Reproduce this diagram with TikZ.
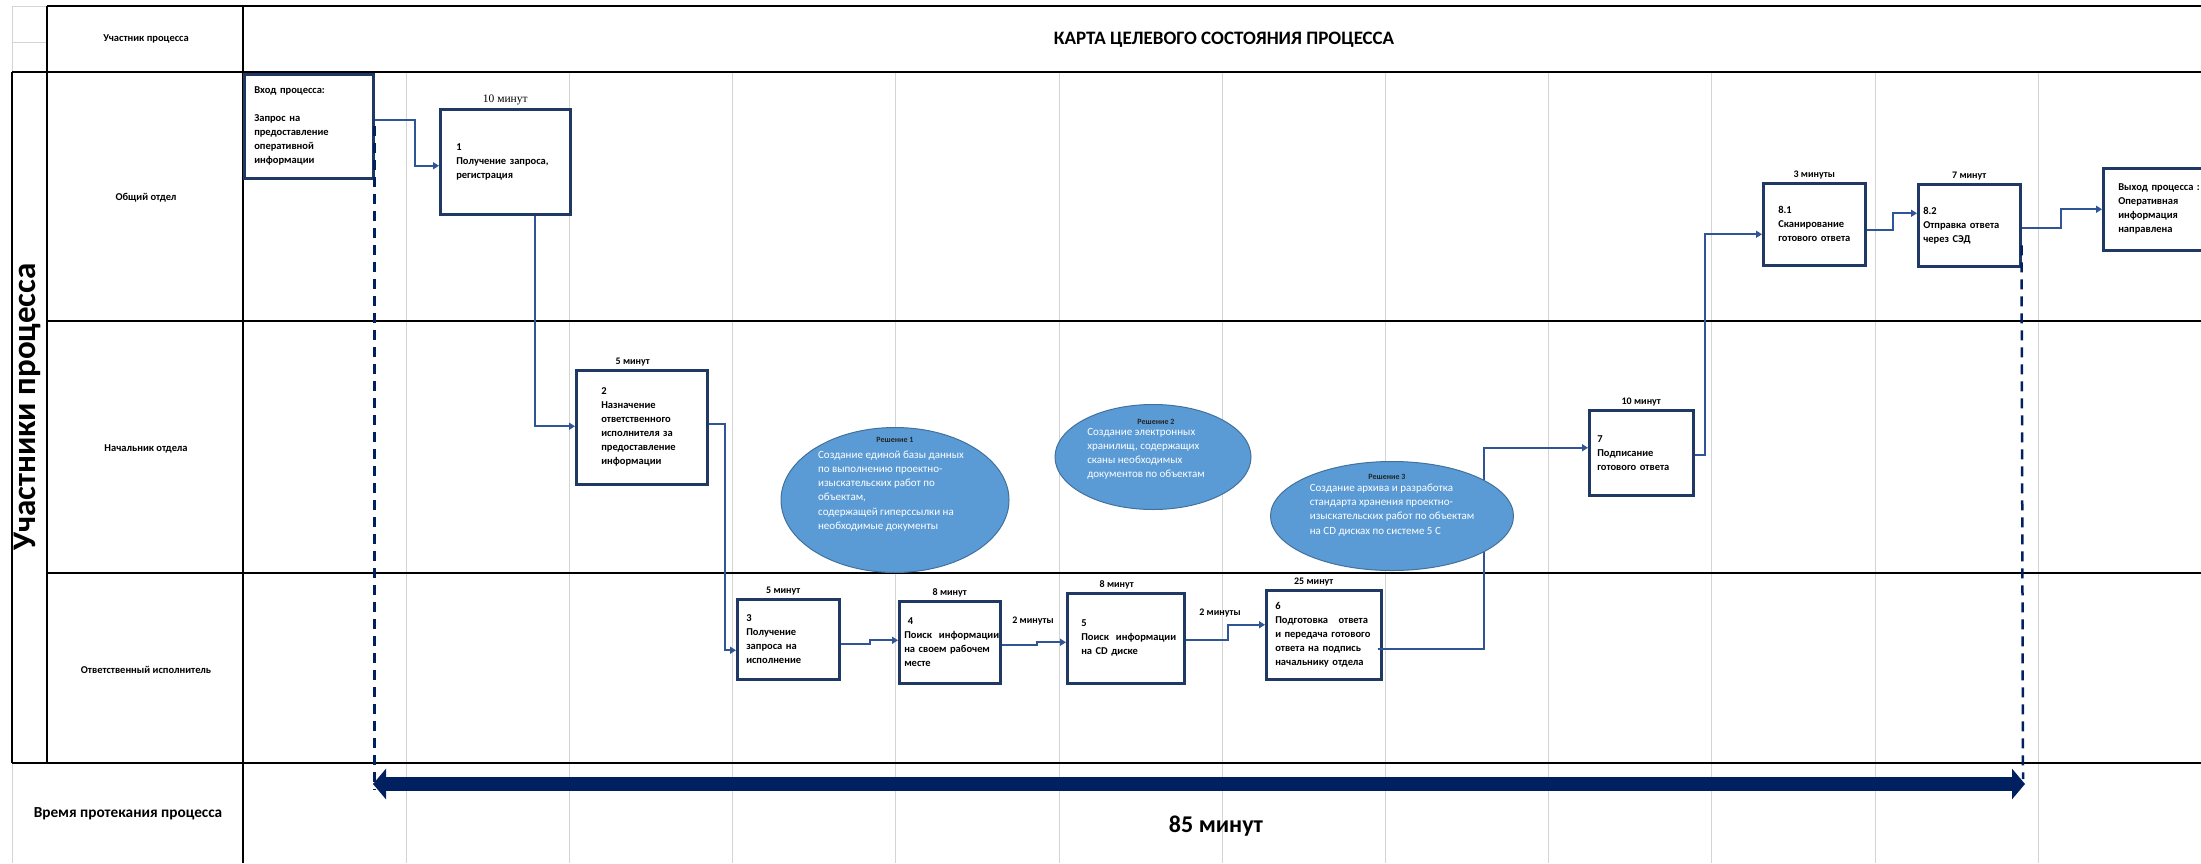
\documentclass[tikz,border=0pt]{standalone}
\usepackage{fontspec}
\setmainfont{Carlito}
\newfontfamily\timesfnt{Liberation Serif}
\usetikzlibrary{arrows.meta,positioning,shapes.geometric}

\definecolor{boxc}{RGB}{31,56,100}
\definecolor{flowc}{RGB}{47,85,151}
\definecolor{navyc}{RGB}{0,32,96}
\definecolor{solfill}{RGB}{91,155,213}
\definecolor{soledge}{RGB}{65,113,156}
\definecolor{gridc}{RGB}{212,212,212}

\newcommand{\boxfnt}{\fontsize{10.5}{14}\selectfont\bfseries}
\newcommand{\durfnt}{\fontsize{10}{12}\selectfont\bfseries}
\newcommand{\serdurfnt}{\timesfnt\fontsize{11.5}{13}\selectfont}
\newcommand{\soltextfnt}{\fontsize{11}{14.2}\selectfont}
\newcommand{\soltitlefnt}{\fontsize{8}{10}\selectfont\bfseries}
\newcommand{\lanefnt}{\fontsize{10.5}{12}\selectfont\bfseries}
\newcommand{\headfnt}{\fontsize{19}{22}\selectfont\bfseries}
\newcommand{\sidefnt}{\fontsize{33}{36}\selectfont\bfseries}
\newcommand{\footfnt}{\fontsize{15.3}{17}\selectfont\bfseries}
\newcommand{\totalfnt}{\fontsize{24}{28}\selectfont\bfseries}

\begin{document}
\begin{tikzpicture}[x=1pt,y=-1pt,
    procbox/.style={draw=boxc, fill=white, line width=2.5pt, align=left,
      anchor=north west, inner ysep=0pt, font=\boxfnt},
    timelbl/.style={font=\durfnt, inner sep=1pt},
    flowline/.style={draw=flowc, line width=2pt, -{Triangle[length=6pt,width=7pt]}},
    guideline/.style={draw=navyc, line width=2.5pt, dash pattern=on 10pt off 7pt},
    spanarrow/.style={draw=navyc, line width=14pt,
      {Triangle[length=13pt,width=30pt]}-{Triangle[length=13pt,width=30pt]}},
    solution/.style={ellipse, draw=soledge, fill=solfill, line width=1pt, inner sep=0pt},
    soltext/.style={font=\soltextfnt, text=white, align=left, inner sep=0pt},
    soltitle/.style={font=\soltitlefnt, text=black!85, inner sep=0pt},
    gridline/.style={draw=gridc, line width=1pt},
    tableline/.style={draw=black, line width=1.5pt}]
  \useasboundingbox (0,0) rectangle (2201,863);

  % grid
  \foreach \k in {1,...,11} {
    \draw[gridline] (243+163.2*\k,72) -- ++(0,791);
  }

  % table
  \draw[gridline] (12,6) -- (47,6);
  \draw[gridline] (12,6) -- (12,72);
  \draw[gridline] (12,42) -- (47,42);
  \draw[gridline] (12,763) -- (12,863);
  \draw[tableline] (47,6) -- (2201,6);
  \draw[tableline] (47,6) -- (47,763);
  \draw[tableline] (243,6) -- (243,863);
  \draw[tableline] (12,72) -- (2201,72);
  \draw[tableline] (12,72) -- (12,763);
  \draw[tableline] (47,321) -- (2201,321);
  \draw[tableline] (47,573) -- (2201,573);
  \draw[tableline, line width=2.5pt] (12,763) -- (2201,763);

  \node[font=\lanefnt] (hdr) at (146,39) {Участник процесса};
  \node[font=\headfnt] (title) at (1224,40) {КАРТА ЦЕЛЕВОГО СОСТОЯНИЯ ПРОЦЕССА};
  \node[font=\sidefnt, rotate=90] (side) at (27,407) {Участники процесса};
  \node[font=\lanefnt] (lane1) at (146,198) {Общий отдел};
  \node[font=\lanefnt] (lane2) at (146,449) {Начальник отдела};
  \node[font=\lanefnt] (lane3) at (146,670) {Ответственный исполнитель};
  \node[font=\footfnt] (foot) at (128,814) {Время протекания процесса};

  % boxes
  \node[procbox, text width=109pt, inner xsep=10pt, minimum height=104pt] (in) at (243,73)
    {Вход процесса:\\[14pt]Запрос на\\предоставление\\оперативной\\информации};
  \node[procbox, text width=98pt, inner xsep=16pt, minimum height=105pt] (b1) at (439,108)
    {1\\Получение запроса,\\регистрация};
  \node[procbox, text width=81pt, inner xsep=25pt, minimum height=114pt] (b2) at (575,369)
    {2\\Назначение\\ответственного\\исполнителя~за\\предоставление\\информации};
  \node[procbox, text width=84pt, inner xsep=9pt, minimum height=80pt] (b3) at (736,598)
    {3\\Получение\\запроса~на\\исполнение};
  \node[procbox, text width=91pt, inner xsep=5pt, minimum height=82pt] (b4) at (898,600)
    {~4\\Поиск~~информации\\на~своем~рабочем\\месте};
  \node[procbox, text width=89pt, inner xsep=14pt, minimum height=90pt] (b5) at (1066,592)
    {5\\Поиск~~информации\\на~CD~диске};
  \node[procbox, text width=97pt, inner xsep=9pt, minimum height=89pt] (b6) at (1265,589)
    {6\\Подготовка~~~ответа\\и~передача~готового\\ответа~на~подпись\\начальнику~отдела};
  \node[procbox, text width=88pt, inner xsep=8pt, minimum height=85pt] (b7) at (1588,409)
    {7\\Подписание\\готового~ответа};
  \node[procbox, text width=72pt, inner xsep=15pt, minimum height=82pt] (b81) at (1762,182)
    {8.1\\Сканирование\\готового~ответа};
  \node[procbox, text width=92pt, inner xsep=5pt, minimum height=82pt] (b82) at (1917,183)
    {8.2\\Отправка~ответа\\через~СЭД};
  \node[procbox, text width=90pt, inner xsep=15pt, minimum height=82pt] (out) at (2102,167)
    {Выход~процесса~:\\Оперативная\\информация\\направлена};

  % durations
  \node[timelbl, font=\serdurfnt, above=2pt of b1] (t1) {10 минут};
  \node[timelbl, above=2pt of b2, xshift=-9pt] (t2) {5 минут};
  \node[timelbl, above=2pt of b3, xshift=-5pt] (t3) {5 минут};
  \node[timelbl, above=2pt of b4] (t4) {8 минут};
  \node[timelbl, above=2pt of b5, xshift=-9pt] (t5) {8 минут};
  \node[timelbl, above=2pt of b6, xshift=-10pt] (t6) {25 минут};
  \node[timelbl, above=2pt of b7] (t7) {10 минут};
  \node[timelbl, above=2pt of b81] (t81) {3 минуты};
  \node[timelbl, above=2pt of b82] (t82) {7 минут};
  \node[timelbl] (g45) at (1033,621) {2 минуты};
  \node[timelbl] (g56) at (1220,613) {2 минуты};

  % connectors
  \draw[flowline] ([yshift=6pt]in.east) -- ++(40,0) |- ([yshift=-4pt]b1.west);
  \draw[flowline] ([xshift=30pt]b1.south) |- ([yshift=1pt]b2.west);
  \draw[flowline] ([yshift=3pt]b2.east) -- ++(16,0) |- ([yshift=-11pt]b3.west);
  \draw[flowline] ([yshift=-5pt]b3.east) -- ++(29,0) |- ([yshift=2pt]b4.west);
  \draw[flowline] ([yshift=-3pt]b4.east) -- ++(35,0) |- ([yshift=-4pt]b5.west);
  \draw[flowline] ([yshift=-2pt]b5.east) -- ++(42,0) |- ([yshift=10pt]b6.west);
  \draw[flowline] ([xshift=-5pt,yshift=-14pt]b6.east) -- ++(106,0) |- ([yshift=5pt]b7.west);
  \draw[flowline] ([yshift=-2pt]b7.east) -- ++(10,0) |- ([yshift=-10pt]b81.west);
  \draw[flowline] ([yshift=-6pt]b81.east) -- ++(26,0) |- ([yshift=12pt]b82.west);
  \draw[flowline] ([yshift=-3pt]b82.east) -- ++(39,0) |- (out.west);

  % solutions
  \node[solution, minimum width=228pt, minimum height=145pt] (s1) at (895,500) {};
  \node[soltitle] (s1t) at ([yshift=60pt]s1.center) {Решение 1};
  \node[soltext] (s1x) at ([xshift=-4pt,yshift=9pt]s1.center)
    {Создание единой базы данных\\по выполнению проектно-\\изыскательских работ по\\объектам,\\содержащей гиперссылки на\\необходимые документы};
  \node[solution, minimum width=196pt, minimum height=105pt] (s2) at (1153,457) {};
  \node[soltitle] (s2t) at ([xshift=3pt,yshift=35pt]s2.center) {Решение 2};
  \node[soltext] (s2x) at ([xshift=-7pt,yshift=3pt]s2.center)
    {Создание электронных\\хранилищ, содержащих\\сканы необходимых\\документов по объектам};
  \node[solution, minimum width=243pt, minimum height=109pt] (s3) at (1392,516) {};
  \node[soltitle] (s3t) at ([xshift=-5pt,yshift=39pt]s3.center) {Решение 3};
  \node[soltext] (s3x) at ([yshift=6pt]s3.center)
    {Создание архива и разработка\\стандарта хранения проектно-\\изыскательских работ по объектам\\на CD дисках по системе 5 С};

  % time span
  \coordinate (tstart) at (373,784);
  \coordinate (tend) at (2025,784);
  \draw[guideline] (in.east) -- ([yshift=-6pt]in.east |- tstart);
  \draw[guideline] ([yshift=-20pt]b82.east) -- ([xshift=-2pt,yshift=5pt]tend);
  \draw[spanarrow] (tstart) -- (tend);
  \node[font=\totalfnt] (total) at (1216,826) {85 минут};
\end{tikzpicture}
\end{document}
